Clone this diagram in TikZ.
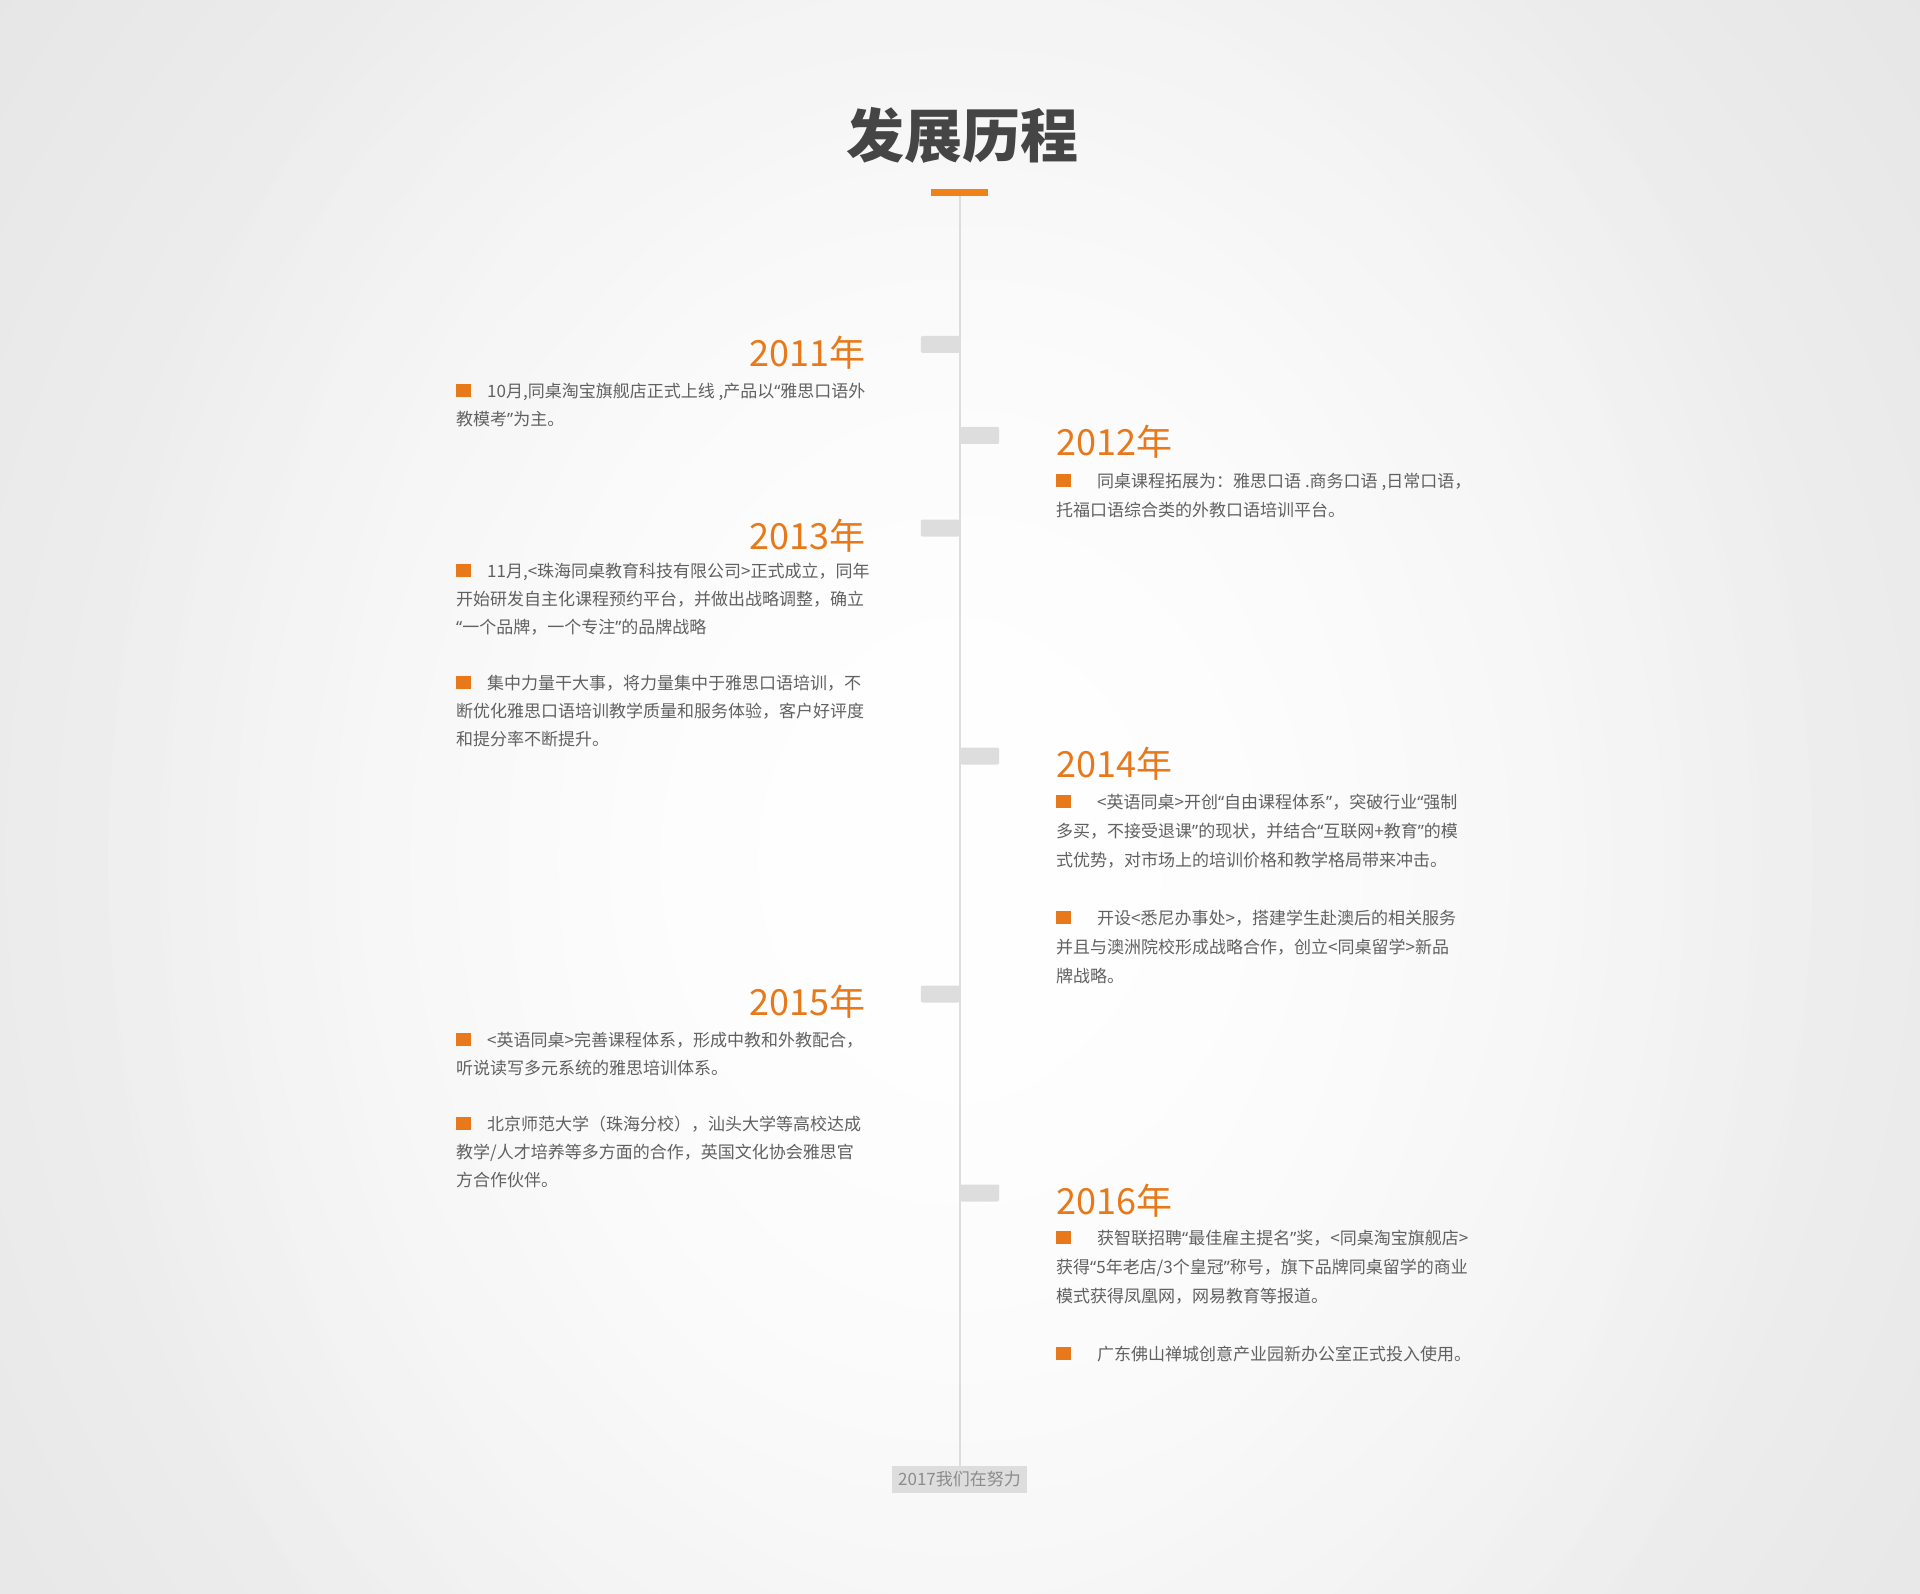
\documentclass[tikz,border=0pt]{standalone}
\usepackage{fontspec}
\newfontfamily\cjk{Noto Sans CJK SC}
\newfontfamily\latinq{Noto Sans}
\usetikzlibrary{fadings}
\definecolor{paper}{HTML}{E5E5E5}
\definecolor{tlorange}{HTML}{E8791A}
\definecolor{barorange}{HTML}{EF8218}
\definecolor{txtgray}{HTML}{616161}
\definecolor{titlegray}{HTML}{454545}
\definecolor{tabgray}{HTML}{DDDDDD}
\definecolor{nowgray}{HTML}{8C8C8C}
\tikzfading[name=glow, inner color=transparent!0, outer color=transparent!100]
\newcommand\sqmark{\textcolor{tlorange}{\rule[0.5pt]{15pt}{13pt}}}
\newcommand\topstrut{\rule{0pt}{20pt}}
\newcommand\oq{{\latinq “}}
\newcommand\cq{{\latinq ”}}
\tikzset{
  yearlabel/.style={font=\cjk\fontsize{36pt}{40pt}\selectfont, text=tlorange, inner sep=0pt},
  lefttext/.style={font=\cjk\fontsize{17pt}{28pt}\selectfont, text=txtgray, align=left, inner sep=0pt, anchor=north west},
  righttext/.style={lefttext, font=\cjk\fontsize{17pt}{29pt}\selectfont},
  yeartab/.style={fill=tabgray, minimum width=39pt, minimum height=17pt, inner sep=0pt, rounded corners=2pt}
}
\begin{document}
\begin{tikzpicture}[x=1pt,y=-1pt]
\useasboundingbox (0,0) rectangle (1920,1594);
\clip (0,0) rectangle (1920,1594);
\fill[paper] (0,0) rectangle (1920,1594);
\fill[white,path fading=glow] (960,860) ellipse (1300 and 1500);
\fill[white,path fading=glow] (960,860) ellipse (900 and 1200);
\node[font=\cjk\bfseries\fontsize{58pt}{60pt}\selectfont, text=titlegray, anchor=base] (title) at (962,158) {发展历程};
\node[fill=barorange, minimum width=57pt, minimum height=7pt, inner sep=0pt] (bar) at (959.5,192.5) {};
\node[fill=tabgray, text=nowgray, font=\cjk\fontsize{17pt}{20pt}\selectfont, minimum width=135pt, minimum height=27pt, inner sep=0pt] (now) at (959.5,1479.5) {2017我们在努力};
\draw[tabgray, line width=2pt] (bar.south) -- (now.north);
\foreach \yr/\yc/\side in {2011/344.5/east, 2012/435.5/west, 2013/528/east, 2014/756/west, 2015/994/east, 2016/1193/west}
  \node[yeartab, anchor=\side] (tab\yr) at (960,\yc) {};
\node[yearlabel, anchor=base east] (y2011) at (866,367) {2011年};
\node[lefttext] (t2011) at (456,377.5) {\topstrut\sqmark\hspace{16pt}10月,同桌淘宝旗舰店正式上线 ,产品以\oq 雅思口语外\\教模考\cq 为主。};
\node[yearlabel, anchor=base west] (y2012) at (1056,456) {2012年};
\node[righttext] (t2012) at (1056,467.5) {\topstrut\sqmark\hspace{26pt}同桌课程拓展为：雅思口语 .商务口语 ,日常口语，\\托福口语综合类的外教口语培训平台。};
\node[yearlabel, anchor=base east] (y2013) at (866,549) {2013年};
\node[lefttext] (t2013) at (456,557.5) {\topstrut\sqmark\hspace{16pt}11月,<珠海同桌教育科技有限公司>正式成立，同年\\开始研发自主化课程预约平台，并做出战略调整，确立\\\oq 一个品牌，一个专注\cq 的品牌战略\\[28pt]\sqmark\hspace{16pt}集中力量干大事，将力量集中于雅思口语培训，不\\断优化雅思口语培训教学质量和服务体验，客户好评度\\和提分率不断提升。};
\node[yearlabel, anchor=base west] (y2014) at (1056,777) {2014年};
\node[righttext] (t2014) at (1056,788.5) {\topstrut\sqmark\hspace{26pt}<英语同桌>开创\oq 自由课程体系\cq ，突破行业\oq 强制\\多买，不接受退课\cq 的现状，并结合\oq 互联网+教育\cq 的模\\式优势，对市场上的培训价格和教学格局带来冲击。\\[29pt]\sqmark\hspace{26pt}开设<悉尼办事处>，搭建学生赴澳后的相关服务\\并且与澳洲院校形成战略合作，创立<同桌留学>新品\\牌战略。};
\node[yearlabel, anchor=base east] (y2015) at (866,1015) {2015年};
\node[lefttext] (t2015) at (456,1026.5) {\topstrut\sqmark\hspace{16pt}<英语同桌>完善课程体系，形成中教和外教配合，\\听说读写多元系统的雅思培训体系。\\[28pt]\sqmark\hspace{16pt}北京师范大学（珠海分校），汕头大学等高校达成\\教学/人才培养等多方面的合作，英国文化协会雅思官\\方合作伙伴。};
\node[yearlabel, anchor=base west] (y2016) at (1056,1214) {2016年};
\node[righttext] (t2016) at (1056,1224.5) {\topstrut\sqmark\hspace{26pt}获智联招聘\oq 最佳雇主提名\cq 奖，<同桌淘宝旗舰店>\\获得\oq 5年老店/3个皇冠\cq 称号，旗下品牌同桌留学的商业\\模式获得凤凰网，网易教育等报道。\\[29pt]\sqmark\hspace{26pt}广东佛山禅城创意产业园新办公室正式投入使用。};
\end{tikzpicture}
\end{document}
